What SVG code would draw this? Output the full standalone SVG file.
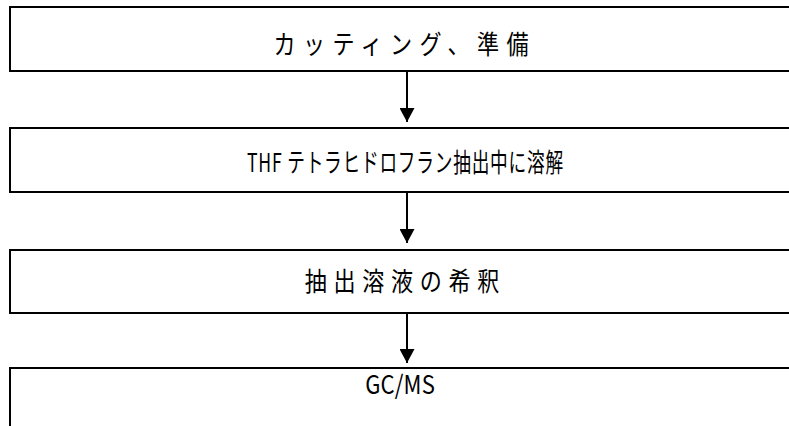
<svg xmlns="http://www.w3.org/2000/svg" width="789" height="426" viewBox="0 0 789 426">
<defs>
<style>
.box{fill:#fff;stroke:#000;stroke-width:2}
.lbl{font-family:"Noto Sans CJK JP","Liberation Sans",sans-serif;font-size:26px;fill:#000;text-anchor:middle}
.conn{stroke:#000;stroke-width:2;fill:none}
</style>
<marker id="ah" markerWidth="14" markerHeight="15" refX="14" refY="7.5" orient="auto" markerUnits="userSpaceOnUse">
<path d="M0,0 L14,7.5 L0,15 Z" fill="#000"/>
</marker>
</defs>
<rect width="789" height="426" fill="#fff"/>
<g id="node1">
<rect class="box" x="10" y="7" width="800" height="64"/>
<text class="lbl" transform="translate(401,54) scale(0.85,1)" x="0" y="0" textLength="300" lengthAdjust="spacing">カッティング、準備</text>
</g>
<g id="node2">
<rect class="box" x="10" y="128" width="800" height="64"/>
<text class="lbl" transform="translate(405,172) scale(0.68,1)" x="0" y="0" textLength="465" lengthAdjust="spacing">THF テトラヒドロフラン抽出中に溶解</text>
</g>
<g id="node3">
<rect class="box" x="10" y="250" width="800" height="63"/>
<text class="lbl" transform="translate(402,291) scale(0.85,1)" x="0" y="0" textLength="229" lengthAdjust="spacing">抽出溶液の希釈</text>
</g>
<g id="node4">
<rect class="box" x="10" y="368" width="800" height="80"/>
<text class="lbl" transform="translate(400,394) scale(0.85,1)" x="0" y="0" textLength="82" lengthAdjust="spacing">GC/MS</text>
</g>
<g id="connectors">
<line class="conn" x1="407" y1="71" x2="407" y2="122" marker-end="url(#ah)"/>
<line class="conn" x1="407" y1="192" x2="407" y2="243" marker-end="url(#ah)"/>
<line class="conn" x1="407" y1="313" x2="407" y2="363" marker-end="url(#ah)"/>
</g>
</svg>
